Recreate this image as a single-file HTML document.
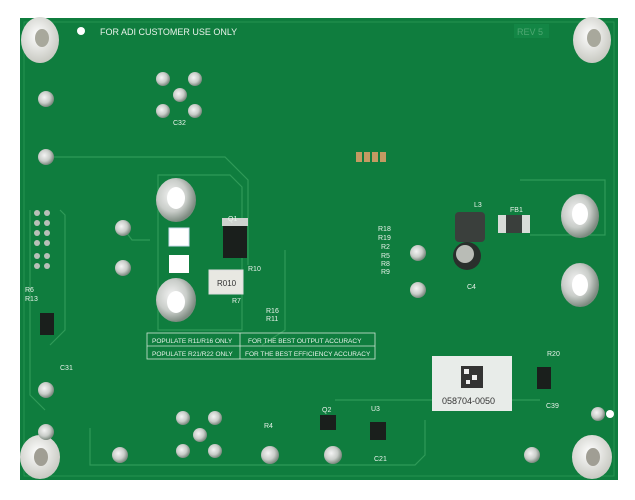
<!DOCTYPE html>
<html><head><style>
html,body{margin:0;padding:0;background:#fff;width:635px;height:500px;overflow:hidden}
svg text{font-family:"Liberation Sans",sans-serif;fill:#e8f2ea}
</style></head><body>
<svg width="635" height="500" viewBox="0 0 635 500" xmlns="http://www.w3.org/2000/svg">
<defs>
<radialGradient id="pad" cx="40%" cy="40%" r="60%"><stop offset="0" stop-color="#f4f4f4"/><stop offset="0.6" stop-color="#c9cdc9"/><stop offset="1" stop-color="#7d8a80"/></radialGradient>
<radialGradient id="so" cx="45%" cy="40%" r="60%"><stop offset="0" stop-color="#ffffff"/><stop offset="1" stop-color="#c8c9c2"/></radialGradient>
</defs>
<rect x="20" y="18" width="598" height="462" fill="#0f7d3e"/>
<rect x="24" y="22" width="590" height="454" fill="none" stroke="#2c9a55" stroke-width="0.8"/>
<g fill="none" stroke="#2f9a58" stroke-width="1.2">
<path d="M50 157 H225 L248 180 V265"/>
<path d="M158 175 H230 L242 187 V330 H158 Z"/>
<path d="M123 228 L132 240 H150"/>
<path d="M30 210 V395 L45 410"/>
<path d="M60 210 L65 215 V330 L50 345"/>
<path d="M90 428 V465 H415 L425 455 V420"/>
<path d="M335 400 H540"/>
<path d="M530 235 H605 V180 H520"/>
<path d="M285 250 V330 L262 345"/>
</g>
<g>
<ellipse cx="40" cy="40" rx="19" ry="23" fill="url(#so)"/><ellipse cx="42" cy="38" rx="7" ry="9" fill="#a8a89c"/>
<ellipse cx="592" cy="40" rx="19" ry="23" fill="url(#so)"/><ellipse cx="594" cy="38" rx="7" ry="9" fill="#a8a89c"/>
<ellipse cx="40" cy="457" rx="20" ry="22" fill="url(#so)"/><ellipse cx="41" cy="457" rx="7" ry="9" fill="#a09e94"/>
<ellipse cx="592" cy="457" rx="20" ry="22" fill="url(#so)"/><ellipse cx="593" cy="457" rx="7" ry="9" fill="#a09e94"/>
</g>
<g>
<ellipse cx="176" cy="200" rx="20" ry="22" fill="url(#pad)"/><ellipse cx="176" cy="198" rx="9" ry="11" fill="#ffffff"/>
<ellipse cx="176" cy="300" rx="20" ry="22" fill="url(#pad)"/><ellipse cx="176" cy="302" rx="9" ry="11" fill="#ffffff"/>
<ellipse cx="580" cy="216" rx="19" ry="22" fill="url(#pad)"/><ellipse cx="580" cy="214" rx="8" ry="11" fill="#ffffff"/>
<ellipse cx="580" cy="285" rx="19" ry="22" fill="url(#pad)"/><ellipse cx="580" cy="285" rx="8" ry="11" fill="#ffffff"/>
</g>
<g fill="url(#pad)">
<circle cx="46" cy="99" r="8"/><circle cx="46" cy="157" r="8"/><circle cx="123" cy="228" r="8"/><circle cx="123" cy="268" r="8"/>
<circle cx="46" cy="390" r="8"/><circle cx="46" cy="432" r="8"/><circle cx="120" cy="455" r="8"/>
<circle cx="418" cy="253" r="8"/><circle cx="418" cy="290" r="8"/><circle cx="598" cy="414" r="7"/>
<circle cx="270" cy="455" r="9"/><circle cx="333" cy="455" r="9"/><circle cx="532" cy="455" r="8"/>
<circle cx="163" cy="79" r="7"/><circle cx="195" cy="79" r="7"/><circle cx="180" cy="95" r="7"/><circle cx="163" cy="111" r="7"/><circle cx="195" cy="111" r="7"/>
<circle cx="183" cy="418" r="7"/><circle cx="215" cy="418" r="7"/><circle cx="200" cy="435" r="7"/><circle cx="183" cy="451" r="7"/><circle cx="215" cy="451" r="7"/>
</g>
<circle cx="81" cy="31" r="4" fill="#fff"/><circle cx="610" cy="414" r="4" fill="#fff"/>
<g fill="#b8c0b8">
<circle cx="37" cy="213" r="3"/><circle cx="47" cy="213" r="3"/><circle cx="37" cy="223" r="3"/><circle cx="47" cy="223" r="3"/>
<circle cx="37" cy="233" r="3"/><circle cx="47" cy="233" r="3"/><circle cx="37" cy="243" r="3"/><circle cx="47" cy="243" r="3"/>
<circle cx="37" cy="256" r="3"/><circle cx="47" cy="256" r="3"/><circle cx="37" cy="266" r="3"/><circle cx="47" cy="266" r="3"/>
</g>
<rect x="40" y="313" width="14" height="22" fill="#1a1f1c"/>
<rect x="223" y="222" width="24" height="36" fill="#1a1f1c"/><rect x="222" y="218" width="26" height="8" fill="#cfd3cf"/>
<rect x="169" y="228" width="20" height="18" fill="#fff" stroke="#cde" stroke-width="1"/>
<rect x="169" y="255" width="20" height="18" fill="#fff"/>
<rect x="209" y="270" width="34" height="24" fill="#e8e8e2" stroke="#ddd"/>
<text x="217" y="286" font-size="8" style="fill:#333">R010</text>
<rect x="455" y="212" width="30" height="30" rx="4" fill="#3a3f3c"/>
<rect x="498" y="215" width="32" height="18" fill="#d8dcd8"/><rect x="506" y="215" width="16" height="18" fill="#3a3f3c"/>
<circle cx="467" cy="256" r="14" fill="#2a2f2c"/><circle cx="465" cy="254" r="9" fill="#b9bcb6"/>
<rect x="370" y="422" width="16" height="18" fill="#1a1f1c"/>
<rect x="320" y="415" width="16" height="15" fill="#1a1f1c"/>
<rect x="537" y="367" width="14" height="22" fill="#1a1f1c"/>
<g fill="#c49a62">
<rect x="356" y="152" width="6" height="10"/><rect x="364" y="152" width="6" height="10"/><rect x="372" y="152" width="6" height="10"/><rect x="380" y="152" width="6" height="10"/>
</g>
<rect x="432" y="356" width="80" height="55" fill="#e8ece9"/>
<rect x="461" y="366" width="22" height="22" fill="#333"/>
<rect x="464" y="369" width="5" height="5" fill="#eee"/><rect x="472" y="375" width="5" height="5" fill="#eee"/><rect x="466" y="380" width="4" height="4" fill="#eee"/>
<text x="442" y="404" font-size="9" style="fill:#333">058704-0050</text>
<text x="100" y="35" font-size="9">FOR ADI CUSTOMER USE ONLY</text>
<rect x="514" y="24" width="35" height="14" fill="#138645"/>
<text x="517" y="35" font-size="9" style="fill:#4ea772">REV 5</text>
<text x="173" y="125" font-size="7">C32</text>
<text x="228" y="221" font-size="7">Q1</text>
<text x="248" y="271" font-size="7">R10</text>
<text x="232" y="303" font-size="7">R7</text>
<text x="474" y="207" font-size="7">L3</text>
<text x="510" y="212" font-size="7">FB1</text>
<text x="467" y="289" font-size="7">C4</text>
<text x="378" y="231" font-size="7">R18</text><text x="378" y="240" font-size="7">R19</text><text x="381" y="249" font-size="7">R2</text>
<text x="381" y="258" font-size="7">R5</text><text x="381" y="266" font-size="7">R8</text><text x="381" y="274" font-size="7">R9</text>
<text x="25" y="292" font-size="7">R6</text><text x="25" y="301" font-size="7">R13</text>
<text x="60" y="370" font-size="7">C31</text>
<text x="266" y="313" font-size="7">R16</text><text x="266" y="321" font-size="7">R11</text>
<text x="322" y="412" font-size="7">Q2</text><text x="371" y="411" font-size="7">U3</text>
<text x="264" y="428" font-size="7">R4</text><text x="374" y="461" font-size="7">C21</text>
<text x="547" y="356" font-size="7">R20</text><text x="546" y="408" font-size="7">C39</text>
<g stroke="#cfe6d6" stroke-width="0.8" fill="none">
<rect x="147" y="333" width="228" height="26"/><line x1="147" y1="346" x2="375" y2="346"/><line x1="240" y1="333" x2="240" y2="359"/>
</g>
<text x="152" y="343" font-size="6.5">POPULATE R11/R16 ONLY</text>
<text x="248" y="343" font-size="6.5">FOR THE BEST OUTPUT  ACCURACY</text>
<text x="152" y="356" font-size="6.5">POPULATE R21/R22 ONLY</text>
<text x="245" y="356" font-size="6.5">FOR THE BEST EFFICIENCY ACCURACY</text>
</svg>
</body></html>
